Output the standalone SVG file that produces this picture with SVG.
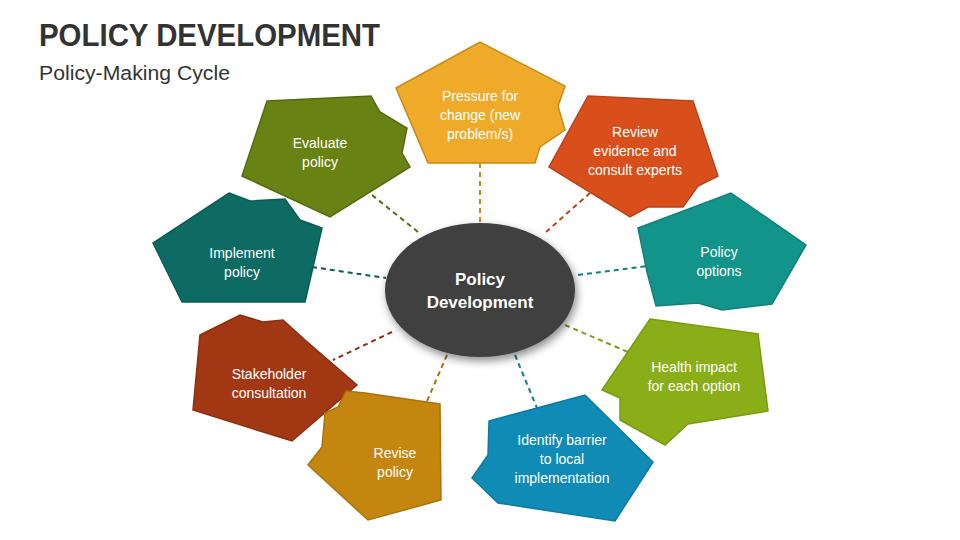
<svg xmlns="http://www.w3.org/2000/svg" width="960" height="540" viewBox="0 0 960 540">
<style>
.t{font-family:"Liberation Sans",Arial,sans-serif;font-size:14px;fill:#fff;text-anchor:middle}
.s{stroke-width:1.5}
.c{stroke-width:2;stroke-dasharray:5,4;fill:none}
</style>
<defs><filter id="sh" x="-20%" y="-20%" width="140%" height="150%"><feDropShadow dx="2" dy="4" stdDeviation="4" flood-opacity="0.45"/></filter></defs>
<rect width="960" height="540" fill="#fff"/>
<text x="39" y="46" font-family="Liberation Sans,Arial,sans-serif" font-weight="bold" font-size="31" fill="#333" textLength="341" lengthAdjust="spacingAndGlyphs">POLICY DEVELOPMENT</text>
<text x="39" y="80" font-family="Liberation Sans,Arial,sans-serif" font-size="20" fill="#333" textLength="191" lengthAdjust="spacingAndGlyphs">Policy-Making Cycle</text>
<g id="connectors">
<line class="c" x1="480" y1="163" x2="480" y2="222" stroke="#C88A1A"/>
<line class="c" x1="546" y1="232" x2="590" y2="193" stroke="#B8441A"/>
<line class="c" x1="578" y1="275" x2="648" y2="266" stroke="#12807A"/>
<line class="c" x1="565" y1="325" x2="628" y2="352" stroke="#7A9A12"/>
<line class="c" x1="515" y1="355" x2="537" y2="408" stroke="#0E7BA0"/>
<line class="c" x1="447" y1="355" x2="424" y2="408" stroke="#A8740E"/>
<line class="c" x1="392" y1="332" x2="333" y2="360" stroke="#8A3012"/>
<line class="c" x1="312" y1="267" x2="386" y2="278" stroke="#0C5C55"/>
<line class="c" x1="372" y1="195" x2="418" y2="232" stroke="#556A10"/>
</g>
<g id="pressure"><polygon class="s" points="396,88 480,42 565,86 558,106 565,130 540,147 535,163 428,163" fill="#EFAA2A" stroke="#C88A1A"/><text class="t" x="480" y="101">Pressure for</text><text class="t" x="480" y="120">change (new</text><text class="t" x="480" y="139">problem/s)</text></g>
<g id="evaluate"><polygon class="s" points="267,101 371,96 380,112 407,128 402,153 410,167 330,217 242,176" fill="#688213" stroke="#556A10"/><text class="t" x="320" y="148">Evaluate</text><text class="t" x="320" y="167">policy</text></g>
<g id="review"><polygon class="s" points="588,96 693,101 718,176 698,186 683,207 648,207 630,217 549,167" fill="#D84F1B" stroke="#B8441A"/><text class="t" x="635" y="137">Review</text><text class="t" x="635" y="156">evidence and</text><text class="t" x="635" y="175">consult experts</text></g>
<g id="implement"><polygon class="s" points="229,193 250,201 285,199 300,220 322,228 305,302 182,302 153,243" fill="#0E6B63" stroke="#0C5C55"/><text class="t" x="242" y="258">Implement</text><text class="t" x="242" y="277">policy</text></g>
<g id="options"><polygon class="s" points="638,228 731,193 806,245 772,304 722,310 698,303 656,306 647,272" fill="#12948A" stroke="#12807A"/><text class="t" x="719" y="257">Policy</text><text class="t" x="719" y="276">options</text></g>
<g id="center"><ellipse cx="480" cy="290" rx="95" ry="67" fill="#404040" filter="url(#sh)"/><text x="480" y="285" font-family="Liberation Sans,Arial,sans-serif" font-weight="bold" font-size="17" fill="#fff" text-anchor="middle">Policy</text><text x="480" y="308" font-family="Liberation Sans,Arial,sans-serif" font-weight="bold" font-size="17" fill="#fff" text-anchor="middle">Development</text></g>
<g id="health"><polygon class="s" points="650,319 758,334 768,411 688,424 665,445 620,420 620,398 602,390" fill="#8AAE17" stroke="#7A9A12"/><text class="t" x="694" y="372">Health impact</text><text class="t" x="694" y="391">for each option</text></g>
<g id="stakeholder"><polygon class="s" points="200,335 240,315 263,322 283,320 305,340 357,385 292,441 193,410" fill="#A23813" stroke="#8A3012"/><text class="t" x="269" y="379">Stakeholder</text><text class="t" x="269" y="398">consultation</text></g>
<g id="revise"><polygon class="s" points="325,413 338,407 346,391 365,393 440,404 441,500 368,520 308,465 322,447" fill="#C4860F" stroke="#A8740E"/><text class="t" x="395" y="458">Revise</text><text class="t" x="395" y="477">policy</text></g>
<g id="identify"><polygon class="s" points="489,421 585,395 653,462 615,521 498,503 472,478 488,455" fill="#0F8BB6" stroke="#0E7BA0"/><text class="t" x="562" y="445">Identify barrier</text><text class="t" x="562" y="464">to local</text><text class="t" x="562" y="483">implementation</text></g>
</svg>
